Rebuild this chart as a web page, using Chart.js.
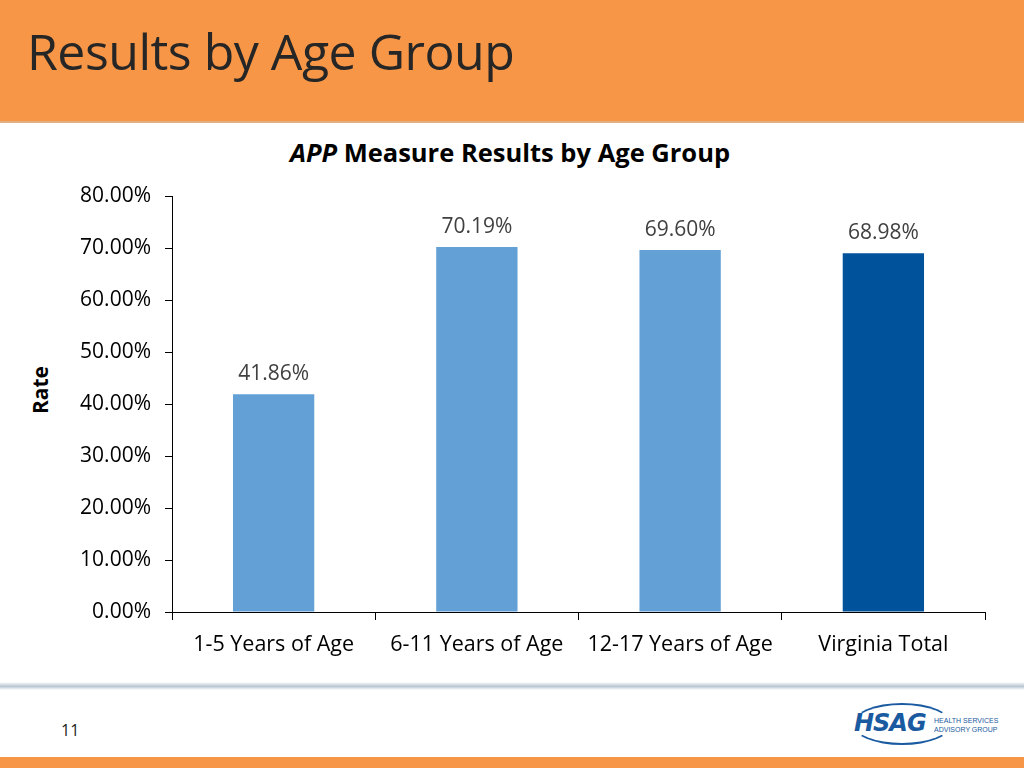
<!DOCTYPE html>
<html lang="en">
<head>
<meta charset="UTF-8">
<title>Results by Age Group</title>
<script src="https://cdn.jsdelivr.net/npm/chart.js@4.4.2/dist/chart.umd.min.js"></script>
<style>
    body {
        margin: 0;
        width: 1024px;
        height: 768px;
        position: relative;
        overflow: hidden;
        background: #fff;
        font-family: "Open Sans", Arial, sans-serif;
    }
    .header {
        position: absolute;
        left: 0; top: 0;
        width: 1024px; height: 121px;
        background: #F79646;
        border-bottom: 2px solid #e0b080;
    }
    .header h1 {
        margin: 0;
        position: absolute;
        left: 27px; top: 17px;
        font-weight: normal;
        font-size: 50px;
        color: #262626;
        letter-spacing: -0.5px;
    }
    .chart-title {
        position: absolute;
        left: 0; top: 135px;
        width: 1020px;
        text-align: center;
        font-size: 25.5px;
        font-weight: bold;
        color: #000;
    }
    .axis-title {
        position: absolute;
        left: 40px; top: 390px;
        transform: translate(-50%, -50%) rotate(-90deg);
        font-size: 21px;
        font-weight: bold;
        color: #000;
    }
    #chart {
        position: absolute;
        left: 0; top: 130px;
    }
    .shadow {
        position: absolute;
        left: 0; top: 682px;
        width: 1024px; height: 8px;
        background: linear-gradient(to bottom, #ffffff, #b8c6d2 55%, #ffffff);
    }
    .page {
        position: absolute;
        left: 61px; top: 719px;
        font-size: 16px;
        color: #222;
    }
    .footer {
        position: absolute;
        left: 0; top: 757px;
        width: 1024px; height: 11px;
        background: #F79646;
    }
    .logo {
        position: absolute;
        left: 850px; top: 703px;
        width: 130px; height: 44px;
    }
    .logo .arc {
        position: absolute;
        left: 2px; top: 0;
        width: 96px; height: 38px;
        border: 2px solid #1a5aa0;
        border-color: #1a5aa0 transparent #1a5aa0 transparent;
        border-radius: 50%;
    }
    .logo .name {
        position: absolute;
        left: 4px; top: 6px;
        font-family: "DejaVu Sans", sans-serif;
        font-size: 24px;
        font-weight: bold;
        font-style: italic;
        color: #1a5aa0;
        letter-spacing: -1px;
    }
    .logo .sub {
        position: absolute;
        left: 84px; top: 13px;
        white-space: nowrap;
        font-family: "Liberation Sans Narrow", "Liberation Sans", sans-serif;
        font-size: 7px;
        line-height: 9px;
        color: #1a5aa0;
    }
</style>
</head>
<body>
<div class="header"><h1>Results by Age Group</h1></div>
<div class="chart-title"><i>APP</i> Measure Results by Age Group</div>
<div class="axis-title">Rate</div>
<canvas id="chart" width="1024" height="550"></canvas>
<div class="shadow"></div>
<div class="page">11</div>
<div class="logo">
    <div class="arc"></div>
    <div class="name">HSAG</div>
    <div class="sub">HEALTH SERVICES<br>ADVISORY GROUP</div>
</div>
<div class="footer"></div>
<script>
    const categories = ['1-5 Years of Age', '6-11 Years of Age', '12-17 Years of Age', 'Virginia Total'];
    const rates = [41.86, 70.19, 69.60, 68.98];
    const barColors = ['#62A0D6', '#62A0D6', '#62A0D6', '#00529B'];
    const yTicks = [0, 10, 20, 30, 40, 50, 60, 70, 80];

    const fontFamily = '"Open Sans", Arial, sans-serif';

    // draws the value above each bar
    const valueLabels = {
        id: 'valueLabels',
        afterDatasetsDraw(chart) {
            const ctx = chart.ctx;
            const meta = chart.getDatasetMeta(0);
            ctx.save();
            ctx.font = '21px ' + fontFamily;
            ctx.fillStyle = '#404040';
            ctx.textAlign = 'center';
            ctx.textBaseline = 'middle';
            meta.data.forEach(function (bar, i) {
                ctx.fillText(rates[i].toFixed(2) + '%', bar.x, bar.y - 20);
            });
            ctx.restore();
        }
    };

    const ctx = document.getElementById('chart').getContext('2d');
    new Chart(ctx, {
        type: 'bar',
        data: {
            labels: categories,
            datasets: [{
                data: rates,
                backgroundColor: barColors,
                borderWidth: 0,
                categoryPercentage: 1.0,
                barPercentage: 0.4
            }]
        },
        options: {
            responsive: false,
            animation: false,
            layout: { padding: { top: 66, right: 39, left: 0, bottom: 0 } },
            plugins: {
                legend: { display: false },
                tooltip: { enabled: false }
            },
            scales: {
                x: {
                    grid: {
                        offset: true,
                        drawOnChartArea: false,
                        drawTicks: true,
                        tickLength: 8,
                        color: '#000'
                    },
                    border: { color: '#000', width: 1 },
                    ticks: {
                        color: '#000',
                        padding: 12,
                        font: { family: fontFamily, size: 21.5 }
                    },
                    afterFit(scale) { scale.height = 68; }
                },
                y: {
                    min: 0,
                    max: 80,
                    afterBuildTicks(scale) {
                        scale.ticks = yTicks.map(v => ({ value: v }));
                    },
                    grid: {
                        drawOnChartArea: false,
                        drawTicks: true,
                        tickLength: 7,
                        color: '#000'
                    },
                    border: { color: '#000', width: 1 },
                    ticks: {
                        color: '#000',
                        padding: 14,
                        font: { family: fontFamily, size: 21 },
                        callback: v => v.toFixed(2) + '%'
                    },
                    afterFit(scale) { scale.width = 172; }
                }
            }
        },
        plugins: [valueLabels]
    });
</script>
</body>
</html>
